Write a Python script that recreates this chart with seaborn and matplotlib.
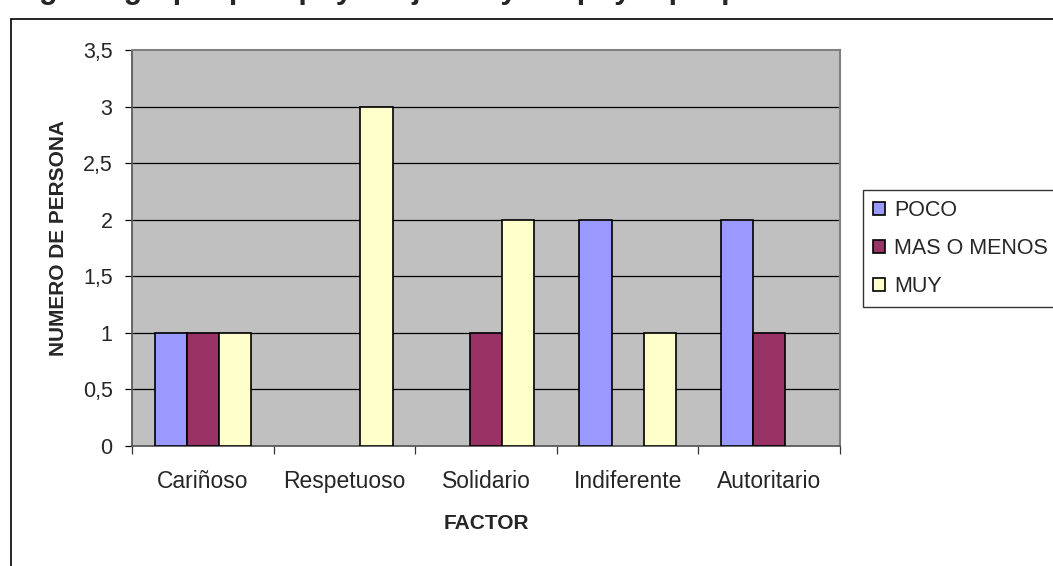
import matplotlib
matplotlib.use("Agg")
import matplotlib.pyplot as plt
import pandas as pd
import seaborn as sns
from matplotlib.patches import Rectangle

# data
factores = ["Cariñoso", "Respetuoso", "Solidario", "Indiferente", "Autoritario"]
poco = [1, 0, 0, 2, 2]
mas_o_menos = [1, 0, 1, 0, 1]
muy = [1, 3, 2, 1, 0]
series = ["POCO", "MAS O MENOS", "MUY"]
colores = ["#9999FF", "#993366", "#FFFFCC"]
y_ticks = [0, 0.5, 1, 1.5, 2, 2.5, 3, 3.5]

df = pd.DataFrame({"Factor": factores, "POCO": poco,
                   "MAS O MENOS": mas_o_menos, "MUY": muy})
long = df.melt(id_vars="Factor", var_name="Serie", value_name="Valor")
long = long[long["Valor"] > 0]

sns.set_theme(style="white")
plt.rcParams["font.family"] = ["Liberation Sans", "DejaVu Sans"]

W, H = 1053, 566
fig = plt.figure(figsize=(W / 100, H / 100), dpi=100)
ax = fig.add_axes([132 / W, 1 - 446 / H, (840 - 132) / W, (446 - 50) / H])
ax.set_facecolor("#C0C0C0")

sns.barplot(data=long, x="Factor", y="Valor", hue="Serie", order=factores,
            hue_order=series, palette=colores, saturation=1, width=0.68,
            edgecolor="black", linewidth=1.2, ax=ax, zorder=3, legend=False)

ax.set_ylim(0, 3.5)
ax.set_xlim(-0.5, len(factores) - 0.5)
ax.set_yticks(y_ticks)
ax.set_yticklabels([f"{t:g}".replace(".", ",") for t in y_ticks], fontsize=15.5)
for t in y_ticks[1:-1]:
    ax.axhline(t, color="black", lw=0.9, zorder=1)

ax.set_xticks(range(len(factores)))
ax.set_xticklabels(factores, fontsize=16.5)
ax.set_xticks([i - 0.5 for i in range(len(factores) + 1)], minor=True)
ax.tick_params(axis="x", which="major", length=0, pad=17)
ax.tick_params(axis="x", which="minor", length=6, width=0.9, color="#333333",
               direction="out", bottom=True)
ax.tick_params(axis="y", length=5, width=0.9, color="black", direction="out",
               left=True, pad=9)

for side in ["top", "right"]:
    ax.spines[side].set_color("#808080")
    ax.spines[side].set_linewidth(1.5)
ax.spines["left"].set_color("#555555")
ax.spines["bottom"].set_color("#555555")

ax.set_xlabel("FACTOR", fontsize=15, fontweight="bold")
ax.set_ylabel("NUMERO DE PERSONA", fontsize=15, fontweight="bold")
ax.xaxis.set_label_coords(0.5, -(514 - 446) / (446 - 50))
ax.yaxis.set_label_coords(-(132 - 68) / (840 - 132), (446 - 238) / (446 - 50))

# legend box, cut at the right edge like the reference
handles = [Rectangle((0, 0), 1, 1, facecolor=c, edgecolor="black", lw=1.2)
           for c in colores]
leg = fig.legend(handles, series, loc="upper left",
                 bbox_to_anchor=(863 / W, 1 - 190 / H), fontsize=15.5,
                 frameon=True, fancybox=False, edgecolor="black",
                 handlelength=0.55, handleheight=0.55, handletextpad=0.45,
                 labelspacing=0.8, borderpad=0.45, borderaxespad=0)
leg.get_frame().set_linewidth(1.0)

# outer chart border
fig.patches.append(Rectangle((11 / W, -0.1), 1.2, 1.1 - 19 / H,
                             transform=fig.transFigure, fill=False,
                             edgecolor="black", lw=1.2, clip_on=False))

# title mostly above the picture, only descenders visible
fig.text(12 / W, 1 + 2 / H, "Figura: grupo que apoya al joven y el apoyo que prefiere",
         fontsize=22, fontweight="bold", ha="left", va="baseline")

fig.savefig("out.png", dpi=100)
